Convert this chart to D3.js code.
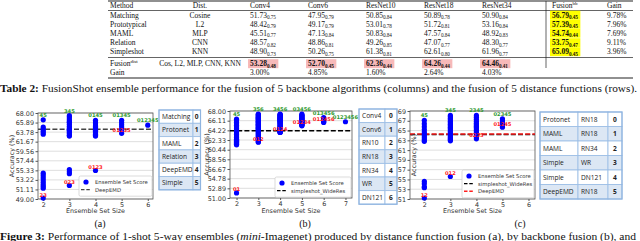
<!DOCTYPE html>
<html>
<head>
<meta charset="utf-8">
<script src="https://cdn.jsdelivr.net/npm/d3@7"></script>
<style>
  body { margin: 0; background: #fff; }
  svg { display: block; }
</style>
</head>
<body>
<svg id="chart" width="640" height="241"></svg>
<script>
// ---------- Table 2 data ----------
var backbones = ["Conv4", "Conv6", "ResNet10", "ResNet18", "ResNet34"];
var methods = ["Matching", "Prototypical", "MAML", "Relation", "Simpleshot"];
var distNames = ["Cosine", "L2", "MLP", "CNN", "KNN"];
var accMean = [
    [51.73, 47.95, 50.85, 50.89, 50.90],
    [48.42, 49.17, 53.01, 51.72, 53.16],
    [45.51, 47.13, 50.83, 47.57, 48.92],
    [48.57, 48.86, 49.26, 47.07, 48.30],
    [48.90, 50.26, 61.38, 62.61, 61.96]
];
var accStd = [
    [0.75, 0.79, 0.84, 0.78, 0.84],
    [0.79, 0.79, 0.78, 0.81, 0.84],
    [0.77, 0.84, 0.84, 0.84, 0.83],
    [0.82, 0.81, 0.85, 0.77, 0.77],
    [0.73, 0.75, 0.81, 0.80, 0.77]
];
var fusionBB = [56.79, 57.39, 54.74, 53.75, 65.09];
var fusionBBStd = [0.45, 0.45, 0.44, 0.47, 0.45];
var gainBB = ["9.78%", "7.96%", "7.69%", "9.11%", "3.96%"];
var fusionDistLabel = "Cos, L2, MLP, CNN, KNN";
var fusionDist = [53.28, 52.70, 62.36, 64.26, 64.46];
var fusionDistStd = [0.48, 0.45, 0.44, 0.44, 0.41];
var gainDist = ["3.00%", "4.85%", "1.60%", "2.64%", "4.03%"];

// ---------- Figure 3 data ----------
// (a) distance function fusion
var sizesA = [2, 3, 4, 5, 6];
var scoresA = [
    [66.5, 64.9, 64.5, 64.1, 63.7, 63.3, 54.7, 54.2, 53.7, 53.2, 52.7, 52.2, 51.8, 51.4, 49.2],
    [67.4, 67.1, 66.7, 66.3, 66.0, 65.9, 65.5, 65.1, 64.7, 64.4, 64.2, 64.0, 63.7, 63.4, 63.1, 62.9, 55.5, 55.0, 54.6, 52.0],
    [66.4, 66.0, 65.6, 65.2, 65.0, 64.8, 64.5, 64.2, 64.0, 63.9, 63.6, 63.3, 63.1, 62.9, 55.3],
    [66.4, 65.9, 65.4, 64.9, 64.3, 63.5],
    [65.3]
];
var bestA = ["45", "345", "0145", "01345", "012345"];
var worstA = ["23", "023", "0123", "01235", ""];
var yTicksA = [49.00, 51.11, 53.22, 55.33, 57.44, 59.56, 61.67, 63.78, 65.89, 68.00];
var refA = [{ name: "DeepEMD", value: 64.4, color: "#444" }];
var membersA = [["Matching", "0"], ["Protonet", "1"], ["MAML", "2"], ["Relation", "3"], ["DeepEMD", "4"], ["Simple", "5"]];

// (b) backbone fusion
var sizesB = [2, 3, 4, 5, 6, 7];
var scoresB = [
    [66.4, 66.1, 65.8, 65.5, 65.2, 64.9, 64.6, 64.3, 64.0, 63.7, 63.4, 63.1, 62.8, 62.5, 62.3, 62.1, 61.9, 61.7, 61.5, 61.4, 52.0],
    [67.4, 67.3, 67.2, 67.0, 66.9, 66.8, 66.6, 66.5, 66.4, 66.2, 66.0, 65.9, 65.8, 65.6, 65.4, 65.3, 65.2, 65.0,
     64.8, 64.7, 64.6, 64.4, 64.2, 64.0, 63.8, 63.6, 63.4, 63.2, 63.0, 62.8, 62.6, 62.4, 62.2, 62.0, 61.9],
    [67.4, 67.3, 67.2, 67.1, 67.0, 66.9, 66.8, 66.7, 66.6, 66.5, 66.4, 66.3, 66.2, 66.1, 66.0, 65.9, 65.8, 65.6,
     65.5, 65.3, 65.2, 65.0, 64.9, 64.8, 64.6, 64.5, 64.4, 64.3, 64.2, 64.1, 64.0, 63.95, 63.9, 63.85, 63.8],
    [67.4, 67.2, 67.1, 67.0, 66.9, 66.7, 66.6, 66.5, 66.4, 66.2, 66.1, 66.0, 65.9, 65.8, 65.7, 65.6, 65.5, 65.4, 65.3, 65.2, 65.1],
    [66.7, 66.5, 66.4, 66.2, 66.1, 65.9, 65.75],
    [65.9]
];
var bestB = ["45", "356", "3456", "03456", "013456", "0123456"];
var worstB = ["01", "012", "0124", "01234", "012456", ""];
var yTicksB = [51.00, 52.89, 54.78, 56.67, 58.56, 60.44, 62.33, 64.22, 66.11, 68.00];
var refB = [{ name: "simpleshot_WideRes", value: 64.15, color: "#000" }];
var membersB = [["Conv4", "0"], ["Conv6", "1"], ["RN10", "2"], ["RN18", "3"], ["RN34", "4"], ["WR", "5"], ["DN121", "6"]];

// (c) mixed fusion
var sizesC = [2, 3, 4, 5];
var scoresC = [
    [67.1, 66.4, 65.8, 65.2, 64.7, 64.3, 63.9, 63.5, 63.1, 62.8, 54.6, 54.1, 53.5, 53.3, 51.2],
    [68.1, 67.8, 67.5, 67.2, 66.9, 66.6, 66.3, 66.0, 65.7, 65.4, 65.1, 64.8, 64.5, 64.2, 63.9, 63.6, 63.3, 63.1, 62.9, 55.6],
    [68.1, 67.7, 67.3, 66.9, 66.5, 66.2, 65.9, 65.6, 65.3, 65.0, 64.7, 64.4, 64.1, 63.7, 63.3],
    [67.4, 67.0, 66.6, 66.3, 66.0, 65.7]
];
var bestC = ["45", "345", "2345", "02345"];
var worstC = ["12", "012", "0235", "01245"];
var yTicksC = [51, 53, 55, 57, 59, 61, 63, 65, 67, 69];
var refC = [
    { name: "simpleshot_WideRes", value: 64.2, color: "#000" },
    { name: "DeepEMD", value: 64.3, color: "#ff2020" }
];
var membersC = [["Protonet", "RN18", "0"], ["MAML", "RN18", "1"], ["MAML", "RN34", "2"],
                ["Simple", "WR", "3"], ["Simple", "DN121", "4"], ["DeepEMD", "RN18", "5"]];

var svg = d3.select("#chart");
var serif = "'Liberation Serif', 'DejaVu Serif', serif";
var sans = "'DejaVu Sans', sans-serif";

// ---------- Table 2 ----------
var tb = svg.append("g").attr("font-family", serif).attr("font-size", 7.5).attr("fill", "#111");
var tLeft = 108, tRight = 633, sepX = 546;
var valX = [250, 308, 366, 424, 482], fbbX = 552, gainX = 607;
var rowY = [15, 24, 33, 42.5, 51.5], fusY = 63.5, gainY = 72.5;

[[1, 1.2], [10.5, 0.7], [57.5, 0.7], [78, 1.2]].forEach(function(l) {
    tb.append("line").attr("x1", tLeft).attr("x2", tRight).attr("y1", l[0]).attr("y2", l[0])
        .attr("stroke", "#222").attr("stroke-width", l[1]);
});
tb.append("line").attr("x1", sepX).attr("x2", sepX).attr("y1", 1).attr("y2", 68)
    .attr("stroke", "#222").attr("stroke-width", 0.7);

function cellText(x, y, main, sub, opts) {
    opts = opts || {};
    var t = tb.append("text").attr("x", x).attr("y", y + 2.6)
        .attr("text-anchor", opts.anchor || "start")
        .attr("font-weight", opts.bold ? "bold" : null);
    t.append("tspan").text(main);
    if (sub) {
        t.append("tspan").attr("font-size", opts.sup ? 5 : 5.2).attr("dy", opts.sup ? -3 : 1.6).text(sub);
    }
    if (opts.fill) {
        var bb = t.node().getBBox();
        tb.insert("rect", function() { return t.node(); })
            .attr("x", bb.x - 2).attr("y", y - 4.3).attr("width", bb.width + 4).attr("height", 9)
            .attr("fill", opts.fill);
    }
    return t;
}

cellText(110, 5.5, "Method");
cellText(200, 5.5, "Dist.", null, { anchor: "middle" });
backbones.forEach(function(b, i) { cellText(valX[i], 5.5, b); });
cellText(fbbX, 5.5, "Fusion", "bb", { sup: true });
cellText(gainX, 5.5, "Gain");

methods.forEach(function(m, r) {
    cellText(110, rowY[r], m);
    cellText(200, rowY[r], distNames[r], null, { anchor: "middle" });
    accMean[r].forEach(function(v, c) {
        cellText(valX[c], rowY[r], v.toFixed(2), accStd[r][c].toFixed(2));
    });
    cellText(fbbX, rowY[r], fusionBB[r].toFixed(2), fusionBBStd[r].toFixed(2), { bold: true, fill: "#ffff00" });
    cellText(gainX, rowY[r], gainBB[r]);
});
cellText(110, fusY, "Fusion", "dist", { sup: true });
cellText(200, fusY, fusionDistLabel, null, { anchor: "middle" });
fusionDist.forEach(function(v, c) {
    cellText(valX[c], fusY, v.toFixed(2), fusionDistStd[c].toFixed(2), { bold: true, fill: "#f7b9b9" });
});
cellText(110, gainY, "Gain");
gainDist.forEach(function(g, c) { cellText(valX[c], gainY, g); });

// Table caption
var cap1 = svg.append("text").attr("x", 0).attr("y", 91.5).attr("font-family", serif)
    .attr("font-size", 10.5).attr("fill", "#111")
    .attr("textLength", 637).attr("lengthAdjust", "spacingAndGlyphs");
cap1.append("tspan").attr("font-weight", "bold").text("Table 2: ");
cap1.append("tspan").text("FusionShot ensemble performance for the fusion of 5 backbone algorithms (columns) and the fusion of 5 distance functions (rows).");

// ---------- Figure 3 panels ----------
function drawPanel(cfg) {
    var g = svg.append("g");
    var x = d3.scaleLinear().domain(cfg.xDomain).range([cfg.left, cfg.right]);
    var y = d3.scaleLinear().domain(cfg.yDomain).range([cfg.bottom, cfg.top]);

    g.selectAll(".grid").data(cfg.yTicks).enter().append("line")
        .attr("x1", cfg.left).attr("x2", cfg.right)
        .attr("y1", function(d) { return y(d); }).attr("y2", function(d) { return y(d); })
        .attr("stroke", "#d6d6d6").attr("stroke-width", 0.8);

    var ya = g.append("g").attr("transform", "translate(" + cfg.left + ",0)")
        .call(d3.axisLeft(y).tickValues(cfg.yTicks).tickSize(2.5).tickPadding(1.5).tickFormat(cfg.fmt));
    var xa = g.append("g").attr("transform", "translate(0," + cfg.bottom + ")")
        .call(d3.axisBottom(x).tickValues(cfg.xTicks).tickSize(2).tickPadding(1).tickFormat(d3.format("d")));
    [ya, xa].forEach(function(a) {
        a.select(".domain").remove();
        a.selectAll("text").attr("font-family", sans).attr("font-size", 6.4).attr("fill", "#333");
        a.selectAll("line").attr("stroke", "#555");
    });

    g.append("rect").attr("x", cfg.left).attr("y", cfg.top)
        .attr("width", cfg.right - cfg.left).attr("height", cfg.bottom - cfg.top)
        .attr("fill", "none").attr("stroke", "#555").attr("stroke-width", 0.8);

    cfg.refs.forEach(function(r) {
        g.append("line").attr("x1", cfg.left).attr("x2", cfg.right)
            .attr("y1", y(r.value)).attr("y2", y(r.value))
            .attr("stroke", r.color).attr("stroke-width", 1.4).attr("stroke-dasharray", "5,2.2");
    });

    var pts = [];
    cfg.sizes.forEach(function(s, i) {
        cfg.scores[i].forEach(function(v) { pts.push({ s: s, v: v }); });
    });
    g.selectAll(".pt").data(pts).enter().append("circle")
        .attr("cx", function(d) { return x(d.s); })
        .attr("cy", function(d) { return y(d.v); })
        .attr("r", 2.6).attr("fill", "#0000ff");

    cfg.sizes.forEach(function(s, i) {
        var vals = cfg.scores[i];
        g.append("text").attr("x", x(s)).attr("y", y(d3.max(vals)) - 3)
            .attr("text-anchor", "middle").attr("font-family", sans).attr("font-size", 5.2)
            .attr("font-weight", "bold").attr("fill", "#2e9a2e").text(cfg.best[i]);
        if (cfg.worst[i]) {
            g.append("text").attr("x", x(s)).attr("y", y(d3.min(vals)) - 1.5)
                .attr("text-anchor", "middle").attr("font-family", sans).attr("font-size", 5.2)
                .attr("font-weight", "bold").attr("fill", "#ff2020").text(cfg.worst[i]);
        }
    });

    // legend
    var lg = cfg.legend;
    var items = [{ type: "dot", name: "Ensemble Set Score" }].concat(cfg.refs.map(function(r) {
        return { type: "line", name: r.name, color: r.color };
    }));
    g.append("rect").attr("x", lg.x).attr("y", lg.y).attr("width", lg.w)
        .attr("height", 5 + items.length * 7.6).attr("rx", 1.5)
        .attr("fill", "#fff").attr("fill-opacity", 0.9).attr("stroke", "#ccc").attr("stroke-width", 0.7);
    items.forEach(function(it, k) {
        var cy = lg.y + 6 + k * 7.6;
        if (it.type === "dot") {
            g.append("circle").attr("cx", lg.x + 7).attr("cy", cy).attr("r", 2.6).attr("fill", "#0000ff");
        } else {
            g.append("line").attr("x1", lg.x + 2).attr("x2", lg.x + 12).attr("y1", cy).attr("y2", cy)
                .attr("stroke", it.color).attr("stroke-width", 1.4).attr("stroke-dasharray", "3.5,1.8");
        }
        g.append("text").attr("x", lg.x + 16).attr("y", cy + 2)
            .attr("font-family", sans).attr("font-size", 5.3).attr("fill", "#333").text(it.name);
    });

    g.append("text").attr("x", (cfg.left + cfg.right) / 2).attr("y", 213)
        .attr("text-anchor", "middle").attr("font-family", sans).attr("font-size", 6.4)
        .attr("fill", "#333").text("Ensemble Set Size");
    g.append("text").attr("transform", "translate(" + cfg.yLabelX + "," + ((cfg.top + cfg.bottom) / 2) + ") rotate(-90)")
        .attr("text-anchor", "middle").attr("font-family", sans).attr("font-size", 6.4)
        .attr("fill", "#333").text("Accuracy (%)");
}

function drawMembers(x0, colW, y0, rowH, rows) {
    var g = svg.append("g").attr("font-family", "'Open Sans', 'Liberation Sans', sans-serif").attr("font-size", 6.6);
    var totalW = d3.sum(colW);
    rows.forEach(function(row, r) {
        var cx = x0;
        row.forEach(function(cell, c) {
            g.append("rect").attr("x", cx).attr("y", y0 + r * rowH).attr("width", colW[c]).attr("height", rowH)
                .attr("fill", r % 2 ? "#dce7f4" : "#ffffff").attr("stroke", "#9fc0e6").attr("stroke-width", 0.9);
            var last = c === row.length - 1;
            g.append("text").attr("x", last ? cx + colW[c] / 2 : cx + 3).attr("y", y0 + r * rowH + rowH / 2 + 2.3)
                .attr("text-anchor", last ? "middle" : "start")
                .attr("font-weight", last ? "bold" : null)
                .attr("fill", "#222").text(cell);
            cx += colW[c];
        });
    });
    g.append("rect").attr("x", x0).attr("y", y0).attr("width", totalW).attr("height", rows.length * rowH)
        .attr("fill", "none").attr("stroke", "#8fb4e0").attr("stroke-width", 1.2);
}

drawPanel({
    left: 38, right: 153, top: 113, bottom: 199, xDomain: [1.8, 6.2], yDomain: [49, 68],
    xTicks: sizesA, yTicks: yTicksA, fmt: d3.format(".2f"), sizes: sizesA, scores: scoresA,
    best: bestA, worst: worstA, refs: refA, legend: { x: 79, y: 176, w: 73 }, yLabelX: 14
});
drawMembers(159, [34, 7.5], 110, 13.3, membersA);

drawPanel({
    left: 230, right: 352, top: 111, bottom: 198, xDomain: [1.7, 7.3], yDomain: [51, 68],
    xTicks: sizesB, yTicks: yTicksB, fmt: d3.format(".2f"), sizes: sizesB, scores: scoresB,
    best: bestB, worst: worstB, refs: refB, legend: { x: 275, y: 177, w: 76 }, yLabelX: 209
});
drawMembers(359, [26, 12], 109, 13.6, membersB);

drawPanel({
    left: 410, right: 535, top: 111, bottom: 199, xDomain: [1.45, 6.25], yDomain: [51, 69],
    xTicks: [2, 3, 4, 5, 6], yTicks: yTicksC, fmt: d3.format("d"), sizes: sizesC, scores: scoresC,
    best: bestC, worst: worstC, refs: refC, legend: { x: 462, y: 170, w: 72 }, yLabelX: 416
});
drawMembers(540, [38, 30, 14], 112, 14.5, membersC);

// sub-captions
[["(a)", 100], ["(b)", 305], ["(c)", 520]].forEach(function(s) {
    svg.append("text").attr("x", s[1]).attr("y", 227).attr("text-anchor", "middle")
        .attr("font-family", serif).attr("font-size", 10).attr("fill", "#111").text(s[0]);
});

var cap2 = svg.append("text").attr("x", 0).attr("y", 240).attr("font-family", serif)
    .attr("font-size", 10.5).attr("fill", "#111")
    .attr("textLength", 636).attr("lengthAdjust", "spacingAndGlyphs");
cap2.append("tspan").attr("font-weight", "bold").text("Figure 3: ");
cap2.append("tspan").text("Performance of 1-shot 5-way ensembles (");
cap2.append("tspan").attr("font-style", "italic").text("mini");
cap2.append("tspan").text("-Imagenet) produced by distance function fusion (a), by backbone fusion (b), and");
</script>
</body>
</html>
